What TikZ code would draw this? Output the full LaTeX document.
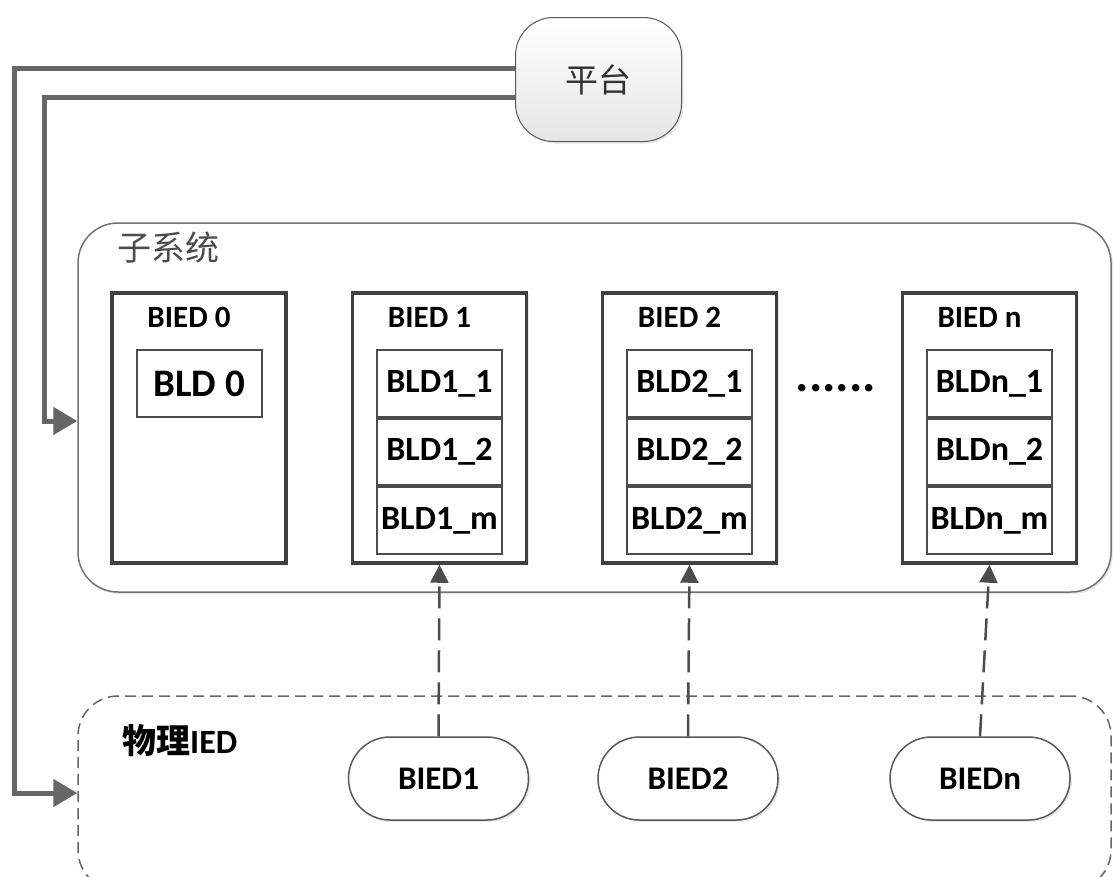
\documentclass[tikz,border=0pt]{standalone}
\usepackage{fontspec}
\setmainfont{Carlito}
\newfontfamily\cjk{Noto Sans CJK SC}
\usetikzlibrary{arrows.meta,shapes.misc,shadows}
\begin{document}
\begin{tikzpicture}[x=1pt,y=-1pt,
  softshadow/.style={drop shadow={opacity=0.18,shadow xshift=2pt,shadow yshift=-2pt}},
  platbox/.style={draw=black!65, line width=1pt, rounded corners=38pt, top color=white, bottom color=black!10,
    minimum width=166pt, minimum height=124pt, inner sep=0pt, softshadow,
    font=\cjk\fontsize{33}{38}\selectfont, text=black!80},
  subbox/.style={draw=black!55, line width=1.5pt, fill=white, rounded corners=40pt,
    minimum width=1033pt, minimum height=369pt, inner sep=0pt, softshadow},
  physbox/.style={draw=black!60, line width=1.5pt, dash pattern=on 11pt off 6pt, rounded corners=40pt,
    minimum width=1033pt, minimum height=194pt, inner sep=0pt},
  biedbox/.style={draw=black!75, line width=3.5pt, fill=white, minimum width=174pt, minimum height=270pt,
    inner sep=0pt, softshadow},
  biedtitle/.style={font=\bfseries\fontsize{31}{36}\selectfont, inner sep=0pt},
  bldbox/.style={draw=black!70, line width=2pt, fill=white, minimum width=125pt, minimum height=66.5pt,
    inner sep=0pt, anchor=north, font=\bfseries\fontsize{34}{40}\selectfont},
  pill/.style={rounded rectangle, draw=black!65, line width=1.5pt, fill=white, minimum width=180pt,
    minimum height=83pt, inner sep=0pt, softshadow, font=\bfseries\fontsize{33}{38}\selectfont},
  thickarr/.style={draw=black!60, line width=5pt, -{Triangle[length=24pt,width=27pt]}},
  dasharr/.style={draw=black!70, line width=2.5pt, dash pattern=on 22pt off 10pt, -{Triangle[length=18pt,width=18pt]}}
]
\clip (0,0) rectangle (1113,876);

% containers
\node[subbox] (sub) at (594.5,407.5) {};
\node[text=black!70, font=\cjk\fontsize{34}{40}\selectfont, inner sep=0pt] (sublabel) at (168,248) {子系统};
\node[physbox] (phys) at (594.5,793) {};
\node[anchor=west, inner sep=0pt, font=\bfseries\fontsize{34}{40}\selectfont] (physlabel) at (122,741) {{\cjk\bfseries 物理}IED};

% platform
\node[platbox] (plat) at (598.5,79.5) {平台};

% BIED boxes
\node[biedbox] (b0) at (199,428) {};
\node[biedbox] (b1) at (439.5,428) {};
\node[biedbox] (b2) at (689.5,428) {};
\node[biedbox] (bn) at (989.5,428) {};

\node[biedtitle] (t0) at ([xshift=-10pt,yshift=-26pt]b0.north) {BIED 0};
\node[biedtitle] (t1) at ([xshift=-10pt,yshift=-26pt]b1.north) {BIED 1};
\node[biedtitle] (t2) at ([xshift=-10pt,yshift=-26pt]b2.north) {BIED 2};
\node[biedtitle] (tn) at ([xshift=-10pt,yshift=-26pt]bn.north) {BIED n};

% BLD boxes
\node[bldbox, font=\bfseries\fontsize{39}{44}\selectfont] (l0) at ([yshift=-58pt]b0.north) {BLD 0};

\node[bldbox] (l11) at ([yshift=-58pt]b1.north) {BLD1\_1};
\node[bldbox] (l12) at (l11.south) {BLD1\_2};
\node[bldbox] (l1m) at (l12.south) {BLD1\_m};

\node[bldbox] (l21) at ([yshift=-58pt]b2.north) {BLD2\_1};
\node[bldbox] (l22) at (l21.south) {BLD2\_2};
\node[bldbox] (l2m) at (l22.south) {BLD2\_m};

\node[bldbox] (ln1) at ([yshift=-58pt]bn.north) {BLDn\_1};
\node[bldbox] (ln2) at (ln1.south) {BLDn\_2};
\node[bldbox] (lnm) at (ln2.south) {BLDn\_m};

\node[anchor=base, inner sep=0pt, font=\bfseries\fontsize{50}{56}\selectfont] (dots) at (836,391) {......};

% physical BIED pills
\node[pill] (p1) at (438.5,778.5) {BIED1};
\node[pill] (p2) at (688,778.5) {BIED2};
\node[pill] (pn) at (980,778.5) {BIEDn};

% connectors
\draw[thickarr] ([yshift=11.5pt]plat.west) -| ([xshift=-63pt]phys.west) -- (phys.west);
\draw[thickarr] ([yshift=-17.5pt]plat.west) -| ([xshift=-33pt,yshift=-13.5pt]sub.west) -- ([yshift=-13.5pt]sub.west);

\draw[dasharr] (p1.north) -- (b1.south);
\draw[dasharr] (p2.north) -- (b2.south);
\draw[dasharr] (pn.north) -- (bn.south);
\end{tikzpicture}
\end{document}
